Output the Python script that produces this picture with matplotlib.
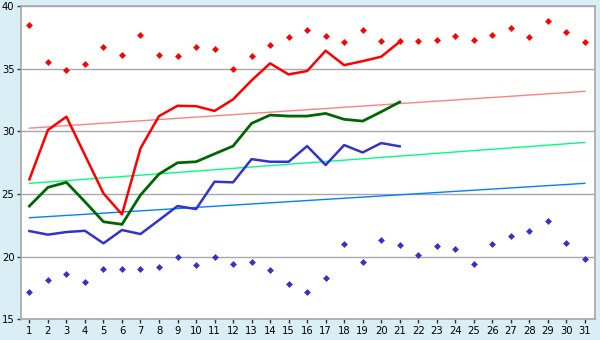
import matplotlib
matplotlib.use('Agg')
import matplotlib.pyplot as plt

# Data
days = list(range(1, 32))
days_obs = list(range(1, 22))

record_high = [38.44, 35.49, 34.85, 35.33, 36.68, 36.05, 37.64, 36.05, 35.97, 36.68,
               36.52, 34.93, 35.97, 36.87, 37.48, 38.04, 37.56, 37.08, 38.04, 37.16,
               37.16, 37.16, 37.24, 37.56, 37.24, 37.64, 38.20, 37.48, 38.76, 37.88, 37.08]
record_low = [17.21, 18.17, 18.64, 18.01, 19.04, 19.04, 19.04, 19.20, 20.00, 19.36,
              20.00, 19.44, 19.60, 18.96, 17.85, 17.21, 18.33, 21.04, 19.60, 21.35,
              20.96, 20.16, 20.88, 20.64, 19.44, 21.04, 21.67, 22.07, 22.87, 21.12, 19.84]

t_max = [26.17, 30.10, 31.16, 28.10, 25.05, 23.38, 28.64, 31.21, 32.03, 32.00,
         31.62, 32.54, 34.05, 35.41, 34.53, 34.80, 36.42, 35.27, 35.59, 35.94, 37.13]
t_mean = [24.04, 25.53, 25.93, 24.38, 22.79, 22.58, 24.92, 26.59, 27.49, 27.57,
          28.20, 28.82, 30.63, 31.29, 31.21, 31.21, 31.42, 30.95, 30.81, 31.55, 32.33]
t_min = [22.05, 21.76, 21.97, 22.07, 21.07, 22.13, 21.81, 22.92, 24.04, 23.80,
         25.98, 25.93, 27.78, 27.57, 27.57, 28.82, 27.31, 28.90, 28.31, 29.06, 28.80]

# normal (trend) lines: values at first and last day
normal_days = [1, 31]
normal_max = [30.25, 33.18]
normal_mean = [25.85, 29.11]
normal_min = [23.11, 25.85]

BG = '#D9EEF5'
GRID = '#A8A8A8'

fig = plt.figure(figsize=(6, 3.4), dpi=100, facecolor=BG)
ax = fig.add_axes([0.0345, 0.0603, 0.9575, 0.9227])
ax.set_facecolor('white')

ax.set_xlim(0.53, 31.56)
ax.set_ylim(15, 40)
ax.set_yticks([15, 20, 25, 30, 35, 40])
ax.set_xticks(days)
ax.yaxis.grid(True, color=GRID, linewidth=1)
ax.set_axisbelow(True)

for s in ax.spines.values():
    s.set_color(GRID)
    s.set_linewidth(1.2)

ax.tick_params(axis='both', labelsize=7.2, length=3, width=1, color='#333333', pad=1.5)

# normals
ax.plot(normal_days, normal_max, color='#FF8080', linewidth=1)
ax.plot(normal_days, normal_mean, color='#00FF80', linewidth=1)
ax.plot(normal_days, normal_min, color='#0080FF', linewidth=1)

# observed
ax.plot(days_obs, t_max, color='#FF0000', linewidth=1.8)
ax.plot(days_obs, t_mean, color='#006600', linewidth=2)
ax.plot(days_obs, t_min, color='#3333CC', linewidth=1.8)

# records
ax.plot(days, record_high, linestyle='none', marker='D', markersize=3.5,
        color='#FF0000', markeredgewidth=0)
ax.plot(days, record_low, linestyle='none', marker='D', markersize=3.5,
        color='#3333CC', markeredgewidth=0)

plt.savefig('out.png', dpi=100, facecolor=BG)
